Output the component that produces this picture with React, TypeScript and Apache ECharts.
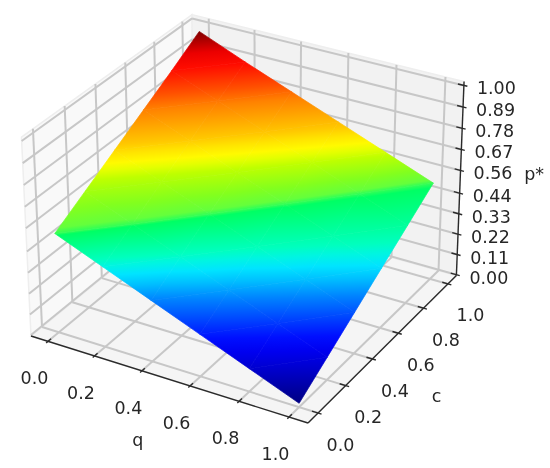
import React, { useEffect, useRef } from "react";
import * as echarts from "echarts";

const qTicks = [0, 0.2, 0.4, 0.6, 0.8, 1];
const cTicks = [0, 0.2, 0.4, 0.6, 0.8, 1];
const pTicks = [0, 0.11, 0.22, 0.33, 0.44, 0.56, 0.67, 0.78, 0.89, 1];
const qRange = [-0.074, 1.075];
const cRange = [-0.071, 1.07];
const pRange = [-0.005, 1.02];

// surface height p*, rows by c (0 -> 1), columns by q (0 -> 1)
const pStar = [
  [0.515, 0.415, 0.315, 0.215, 0.115, 0.015],
  [0.609, 0.51, 0.411, 0.312, 0.213, 0.114],
  [0.703, 0.605, 0.507, 0.409, 0.311, 0.213],
  [0.797, 0.7, 0.603, 0.506, 0.409, 0.312],
  [0.891, 0.795, 0.699, 0.603, 0.507, 0.411],
  [0.99, 0.89, 0.795, 0.7, 0.605, 0.51],
];
// colour level painted on the surface at the same grid nodes
const shade = [
  [0.5, 0.368, 0.264, 0.176, 0.088, 0],
  [0.58, 0.5, 0.384, 0.288, 0.2, 0.112],
  [0.685, 0.59, 0.5, 0.4, 0.312, 0.224],
  [0.79, 0.695, 0.6, 0.5, 0.416, 0.336],
  [0.895, 0.8, 0.705, 0.61, 0.5, 0.432],
  [1, 0.905, 0.81, 0.715, 0.62, 0.5],
];
const shadeLevels = [0, 0.085, 0.13, 0.165, 0.2, 0.265, 0.31, 0.343, 0.37, 0.394, 0.492, 0.5, 0.511, 0.547, 0.609, 0.632, 0.651, 0.675, 0.7, 0.79, 0.832, 0.9, 0.94, 1];
const shadeColors = [
  [0, 0, 130], [0, 0, 205], [0, 0, 240], [0, 15, 255], [0, 55, 255], [0, 130, 255], [0, 190, 255],
  [0, 228, 255], [0, 245, 225], [0, 255, 190], [0, 255, 100], [50, 255, 85], [100, 255, 60],
  [130, 255, 30], [190, 255, 0], [228, 255, 0], [255, 250, 0], [255, 228, 0], [255, 200, 0],
  [255, 130, 0], [255, 80, 0], [255, 12, 0], [235, 0, 0], [128, 0, 0],
];

// camera: image of the box origin, vanishing points and their weights
const ORIGIN = [31, 336];
const VQ = [-5272, -1329];
const VC = [2092, -1349];
const VZ = [263, 5172];
const WQ = -0.04964;
const WC = 0.08622;
const WZ = -0.03952;

function project(q: number, c: number, p: number) {
  const u = ((q - qRange[0]) / (qRange[1] - qRange[0])) * WQ;
  const v = ((c - cRange[0]) / (cRange[1] - cRange[0])) * WC;
  const w = ((p - pRange[0]) / (pRange[1] - pRange[0])) * WZ;
  const d = 1 + u + v + w;
  return [
    (ORIGIN[0] + u * VQ[0] + v * VC[0] + w * VZ[0]) / d,
    (ORIGIN[1] + u * VQ[1] + v * VC[1] + w * VZ[1]) / d,
  ];
}

function shadeColor(l: number) {
  const n = shadeLevels.length;
  if (l <= shadeLevels[0]) return `rgb(${shadeColors[0].join(",")})`;
  for (let i = 1; i < n; i++) {
    if (l <= shadeLevels[i]) {
      const t = (l - shadeLevels[i - 1]) / (shadeLevels[i] - shadeLevels[i - 1]);
      const a = shadeColors[i - 1];
      const b = shadeColors[i];
      return `rgb(${a.map((x, k) => Math.round(x + (b[k] - x) * t)).join(",")})`;
    }
  }
  return `rgb(${shadeColors[n - 1].join(",")})`;
}

function triangleFill(pts: number[][], vals: number[]) {
  const [a, b, c] = pts;
  const det = (b[0] - a[0]) * (c[1] - a[1]) - (c[0] - a[0]) * (b[1] - a[1]);
  const d1 = vals[1] - vals[0];
  const d2 = vals[2] - vals[0];
  const gx = (d1 * (c[1] - a[1]) - d2 * (b[1] - a[1])) / det;
  const gy = (d2 * (b[0] - a[0]) - d1 * (c[0] - a[0])) / det;
  const g2 = gx * gx + gy * gy;
  const lo = Math.min(...vals);
  const hi = Math.max(...vals);
  if (g2 < 1e-12 || hi - lo < 1e-6) return shadeColor(lo);
  const s = pts[vals.indexOf(lo)];
  const stops = [{ offset: 0, color: shadeColor(lo) }];
  shadeLevels.forEach((l) => {
    if (l > lo && l < hi) stops.push({ offset: (l - lo) / (hi - lo), color: shadeColor(l) });
  });
  stops.push({ offset: 1, color: shadeColor(hi) });
  return {
    type: "linear",
    global: true,
    x: s[0],
    y: s[1],
    x2: s[0] + (gx / g2) * (hi - lo),
    y2: s[1] + (gy / g2) * (hi - lo),
    colorStops: stops,
  };
}

const GRID = "#c7c7c7";
const AXIS = "#2b2b2b";
const TEXT = "#262626";
const FONT = "'DejaVu Sans'";

export default function App() {
  const ref = useRef<HTMLDivElement>(null);
  useEffect(() => {
    const chart = echarts.init(ref.current!, undefined, { renderer: "svg" });
    const [q0, q1] = qRange;
    const [c0, c1] = cRange;
    const [p0, p1] = pRange;
    const px = (api: any, q: number, c: number, p: number) => api.coord(project(q, c, p));

    const paneFaces = [
      { corners: [[q0, c0, p0], [q1, c0, p0], [q1, c1, p0], [q0, c1, p0]], fill: "#f5f5f5" },
      { corners: [[q0, c0, p0], [q0, c1, p0], [q0, c1, p1], [q0, c0, p1]], fill: "#f9f9f9" },
      { corners: [[q0, c1, p0], [q1, c1, p0], [q1, c1, p1], [q0, c1, p1]], fill: "#f2f2f2" },
    ];

    const line = (api: any, a: number[], b: number[], stroke: string, lineWidth: number) => {
      const s = px(api, a[0], a[1], a[2]);
      const e = px(api, b[0], b[1], b[2]);
      return {
        type: "line",
        shape: { x1: s[0], y1: s[1], x2: e[0], y2: e[1] },
        style: { stroke, lineWidth, fill: "none" },
      };
    };
    const label = (api: any, at: number[], dx: number, dy: number, text: string, fontSize = 17.5) => {
      const s = px(api, at[0], at[1], at[2]);
      return {
        type: "text",
        style: {
          text,
          x: s[0] + dx,
          y: s[1] + dy,
          fill: TEXT,
          fontSize,
          fontFamily: FONT,
          align: "center",
          verticalAlign: "middle",
        },
      };
    };

    const triangles: number[][] = [];
    for (let j = 0; j < 5; j++) for (let i = 0; i < 5; i++) { triangles.push([i, j, 0]); triangles.push([i, j, 1]); }

    const custom = (name: string, z: number, data: any[], renderItem: any) => ({
      type: "custom",
      name,
      coordinateSystem: "cartesian2d",
      silent: true,
      clip: false,
      z,
      data: data.map((d, i) => [i, 0]),
      renderItem: (_: any, api: any) => renderItem(data[api.value(0)], api),
    });

    const gridLines: any[] = [
      ...qTicks.flatMap((q) => [
        [[q, c0, p0], [q, c1, p0]],
        [[q, c1, p0], [q, c1, p1]],
      ]),
      ...cTicks.flatMap((c) => [
        [[q0, c, p0], [q1, c, p0]],
        [[q0, c, p0], [q0, c, p1]],
      ]),
      ...pTicks.flatMap((p) => [
        [[q0, c0, p], [q0, c1, p]],
        [[q0, c1, p], [q1, c1, p]],
      ]),
    ];

    const axisLines: any[] = [
      [[q0, c0, p0], [q1, c0, p0]],
      [[q1, c0, p0], [q1, c1, p0]],
      [[q1, c1, p0], [q1, c1, p1]],
      ...qTicks.map((q) => [[q, c0 - 0.012, p0], [q, c0 + 0.02, p0]]),
      ...cTicks.map((c) => [[q1 - 0.024, c, p0], [q1 + 0.014, c, p0]]),
      ...pTicks.map((p) => [[q1 - 0.024, c1, p], [q1 + 0.014, c1, p]]),
    ];

    const labels: any[] = [
      ...qTicks.map((q) => ({ at: [q, c0, p0], dx: -13.5, dy: 37, text: q.toFixed(1) })),
      ...cTicks.map((c) => ({ at: [q1, c, p0], dx: 22.5, dy: 31.5, text: c.toFixed(1) })),
      ...pTicks.map((p) => ({ at: [q1, c1, p], dx: 32.5, dy: 3, text: p.toFixed(2) })),
      { at: [0.5, c0, p0], dx: -28, dy: 62, text: "q" },
      { at: [q1, 0.5, p0], dx: 51, dy: 50, text: "c" },
      { at: [q1, c1, 0.5], dx: 74, dy: -8, text: "p*" },
    ];

    chart.setOption({
      animation: false,
      backgroundColor: "#ffffff",
      grid: { left: 0, right: 0, top: 0, bottom: 0 },
      xAxis: { type: "value", min: 0, max: 550, show: false },
      yAxis: { type: "value", min: 0, max: 468, inverse: true, show: false },
      series: [
        custom("panes", 1, paneFaces, (f: any, api: any) => ({
          type: "polygon",
          shape: { points: f.corners.map((k: number[]) => px(api, k[0], k[1], k[2])) },
          style: { fill: f.fill, stroke: "#eeeeee", lineWidth: 1.5 },
        })),
        custom("grid", 2, gridLines, (l: any, api: any) => line(api, l[0], l[1], GRID, 2)),
        custom("surface", 3, triangles, (t: number[], api: any) => {
          const [i, j, k] = t;
          const nodes = k === 0 ? [[i, j], [i + 1, j], [i + 1, j + 1]] : [[i, j], [i + 1, j + 1], [i, j + 1]];
          const pts = nodes.map(([a, b]) => px(api, qTicks[a], cTicks[b], pStar[b][a]));
          const fill = triangleFill(pts, nodes.map(([a, b]) => shade[b][a]));
          return {
            type: "polygon",
            shape: { points: pts },
            style: { fill, stroke: fill, lineWidth: 0.7 },
          };
        }),
        custom("axes", 4, axisLines, (l: any, api: any) => line(api, l[0], l[1], AXIS, 1.4)),
        custom("labels", 5, labels, (l: any, api: any) => label(api, l.at, l.dx, l.dy, l.text)),
      ],
    });
    return () => chart.dispose();
  }, []);
  return <div ref={ref} style={{ position: "absolute", left: 0, top: 0, width: 550, height: 468, filter: "blur(0.45px)" }} />;
}
